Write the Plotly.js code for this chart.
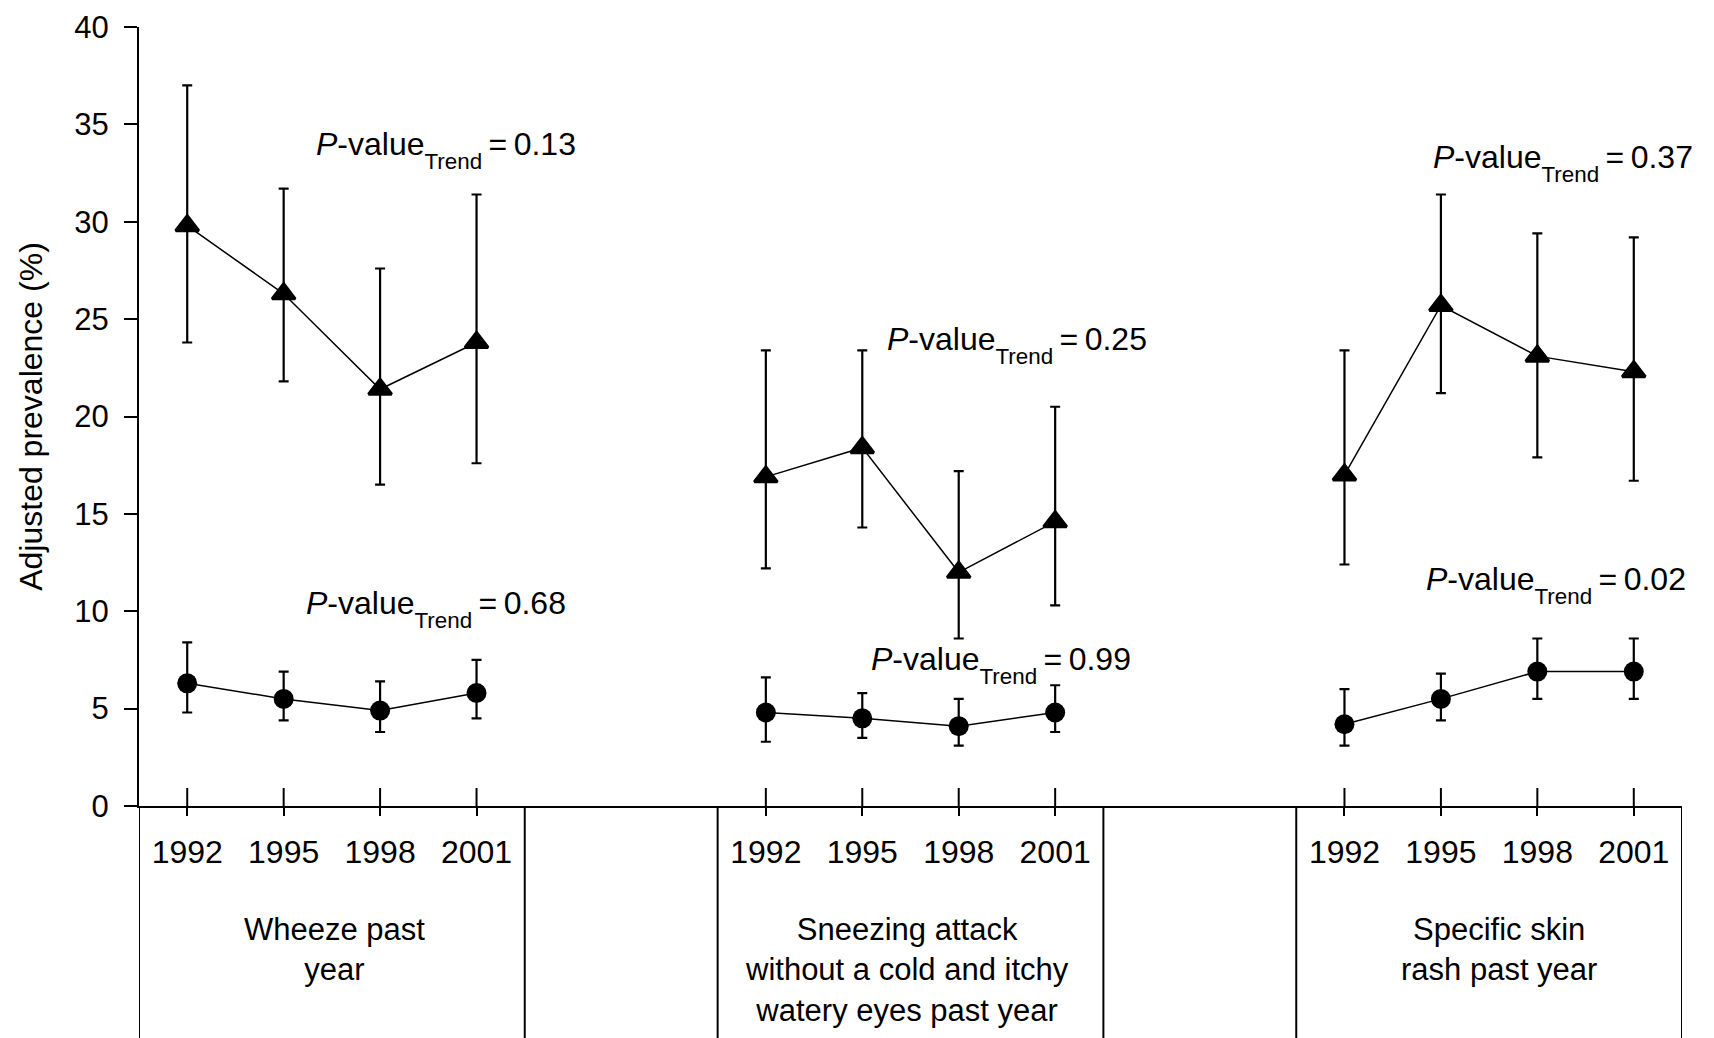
<!DOCTYPE html>
<html><head><meta charset="utf-8">
<script src="https://cdn.plot.ly/plotly-3.0.1.min.js"></script>
<style>html,body{margin:0;padding:0;background:#fff}</style>
</head><body><div id="chart" style="width:1714px;height:1038px"></div>
<script>
// ---------- data ----------
const years = [1992, 1995, 1998, 2001];
const groupLabels = [
  'Wheeze past<br>year',
  'Sneezing attack<br>without a cold and itchy<br>watery eyes past year',
  'Specific skin<br>rash past year'
];
// triangles (upper series)
const wheezeTri      = [29.8, 26.3, 21.4, 23.8];
const wheezeTriLow   = [23.8, 21.8, 16.5, 17.6];
const wheezeTriHigh  = [37.0, 31.7, 27.6, 31.4];
const sneezeTri      = [16.9, 18.4, 12.0, 14.6];
const sneezeTriLow   = [12.2, 14.3, 8.6, 10.3];
const sneezeTriHigh  = [23.4, 23.4, 17.2, 20.5];
const skinTri        = [17.0, 25.7, 23.1, 22.3];
const skinTriLow     = [12.4, 21.2, 17.9, 16.7];
const skinTriHigh    = [23.4, 31.4, 29.4, 29.2];
// circles (lower series)
const wheezeCirc     = [6.3, 5.5, 4.9, 5.8];
const wheezeCircLow  = [4.8, 4.4, 3.8, 4.5];
const wheezeCircHigh = [8.4, 6.9, 6.4, 7.5];
const sneezeCirc     = [4.8, 4.5, 4.1, 4.8];
const sneezeCircLow  = [3.3, 3.5, 3.1, 3.8];
const sneezeCircHigh = [6.6, 5.8, 5.5, 6.2];
const skinCirc       = [4.2, 5.5, 6.9, 6.9];
const skinCircLow    = [3.1, 4.4, 5.5, 5.5];
const skinCircHigh   = [6.0, 6.8, 8.6, 8.6];
// P-values for trend
const pTri  = ['0.13', '0.25', '0.37'];
const pCirc = ['0.68', '0.99', '0.02'];
const yTicks = [0, 5, 10, 15, 20, 25, 30, 35, 40];

// ---------- build ----------
const FONT = 'Liberation Sans, Arial, Helvetica, sans-serif';
const GROUP_STEP = 6;
const xOf = (g) => years.map((_, i) => g * GROUP_STEP + i);

const triSets = [
  [wheezeTri, wheezeTriLow, wheezeTriHigh],
  [sneezeTri, sneezeTriLow, sneezeTriHigh],
  [skinTri, skinTriLow, skinTriHigh]
];
const circSets = [
  [wheezeCirc, wheezeCircLow, wheezeCircHigh],
  [sneezeCirc, sneezeCircLow, sneezeCircHigh],
  [skinCirc, skinCircLow, skinCircHigh]
];

function series(g, set, symbol, size, mline) {
  const [m, lo, hi] = set;
  return {
    type: 'scatter', mode: 'lines+markers',
    x: xOf(g), y: m,
    line: {color: '#000', width: 1.5},
    marker: {symbol: symbol, size: size, color: '#000', line: {color: '#000', width: mline}},
    error_y: {
      type: 'data', symmetric: false,
      array: hi.map((v, i) => v - m[i]),
      arrayminus: m.map((v, i) => v - lo[i]),
      color: '#000', thickness: 2.2, width: 5
    },
    hoverinfo: 'skip', showlegend: false
  };
}

const traces = [];
for (let g = 0; g < 3; g++) {
  traces.push(series(g, triSets[g], 'triangle-up', 20, 3));
  traces.push(series(g, circSets[g], 'circle', 20, 0));
}

const allX = [0, 1, 2].flatMap(g => xOf(g));
const allYearText = [0, 1, 2].flatMap(() => years.map(String));

const PLOT_H = 1038 - 27 - 232;
const shapes = [];
// upper part of the x ticks (they cross the axis line)
allX.forEach(x => shapes.push({
  type: 'line', xref: 'x', yref: 'paper', x0: x, x1: x, y0: 0, y1: 18 / PLOT_H,
  line: {color: '#000', width: 2}
}));
// box outlines below the axis
const bounds = [-0.5];
for (let g = 0; g < 3; g++) {
  if (g > 0) bounds.push(g * GROUP_STEP - 0.5);
  bounds.push(g * GROUP_STEP + years.length - 0.5);
}
bounds.forEach(b => shapes.push({
  type: 'line', xref: 'x', yref: 'paper', x0: b, x1: b, y0: 0, y1: -0.32,
  line: {color: '#000', width: 2}
}));

// annotation placement (layout)
const pTriPos  = [[1.31, 33.7], [7.24, 23.67], [12.9, 33.0]];
const pCircPos = [[1.21, 10.14], [7.07, 7.22], [12.82, 11.34]];
const labelX   = [1.53, 7.46, 13.6];
function pText(v) {
  return '<i>P</i>-value<span style="font-size:22.4px;baseline-shift:-13.7px">Trend</span>\u2009=\u2009' + v;
}
const annotations = [];
for (let g = 0; g < 3; g++) {
  annotations.push({xref: 'x', yref: 'y', x: pTriPos[g][0], y: pTriPos[g][1], xanchor: 'left', yanchor: 'middle',
    text: pText(pTri[g]), showarrow: false, font: {family: FONT, size: 32, color: '#000'}});
  annotations.push({xref: 'x', yref: 'y', x: pCircPos[g][0], y: pCircPos[g][1], xanchor: 'left', yanchor: 'middle',
    text: pText(pCirc[g]), showarrow: false, font: {family: FONT, size: 32, color: '#000'}});
  annotations.push({xref: 'x', yref: 'paper', x: labelX[g], y: -0.1335, xanchor: 'center', yanchor: 'top',
    text: groupLabels[g], showarrow: false, align: 'center', font: {family: FONT, size: 31, color: '#000'}});
}

const layout = {
  width: 1714, height: 1038,
  margin: {l: 139, r: 32, t: 27, b: 232},
  paper_bgcolor: '#fff', plot_bgcolor: '#fff',
  showlegend: false,
  font: {family: FONT, color: '#000'},
  xaxis: {
    range: [-0.5, 15.5], tickmode: 'array', tickvals: allX, ticktext: allYearText,
    ticks: 'outside', ticklen: 8, tickwidth: 2, tickcolor: '#000',
    showline: true, linewidth: 2, linecolor: '#000',
    showgrid: false, zeroline: false, fixedrange: true,
    tickfont: {family: FONT, size: 32, color: '#000'}, ticklabelstandoff: 9
  },
  yaxis: {
    range: [0, 40], tickmode: 'array', tickvals: yTicks,
    ticks: 'outside', ticklen: 13, tickwidth: 2, tickcolor: '#000',
    showline: true, linewidth: 2, linecolor: '#000',
    showgrid: false, zeroline: false, fixedrange: true,
    tickfont: {family: FONT, size: 31, color: '#000'}, ticklabelstandoff: 9,
    title: {text: 'Adjusted prevalence (%)', font: {family: FONT, size: 32, color: '#000'}, standoff: 22}
  },
  shapes: shapes,
  annotations: annotations
};

Plotly.newPlot('chart', traces, layout, {staticPlot: true, displayModeBar: false});
</script>
</body></html>
